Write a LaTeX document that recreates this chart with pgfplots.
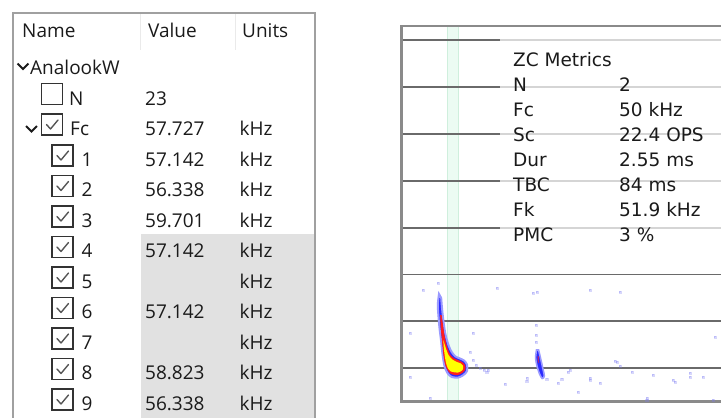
\documentclass[border=0pt]{standalone}
\usepackage{pgfplots}
\pgfplotsset{compat=1.18}
\usepackage{pgfplotstable}
\usepackage{fontspec}
\setmainfont{Open Sans}
\newfontfamily\metfont{DejaVu Sans}
\definecolor{txt}{HTML}{1A1A1A}
\definecolor{tborder}{HTML}{A0A0A0}
\definecolor{sepc}{HTML}{EAEAEA}
\definecolor{selgray}{HTML}{E1E1E1}
\definecolor{boxc}{HTML}{333333}
\definecolor{chk}{HTML}{555555}
\definecolor{framec}{HTML}{8A8A8A}
\definecolor{gridc}{HTML}{6A6A6A}
\definecolor{bandc}{HTML}{ECFBF3}
\definecolor{bandedge}{HTML}{CFEFDD}
\definecolor{halo}{HTML}{2A2AFF}
\definecolor{haloedge}{HTML}{9A9AFF}
\definecolor{hot}{HTML}{FF1E1E}
\definecolor{core}{HTML}{FFFF00}
\definecolor{noise}{HTML}{7B7BF2}
\newcommand{\tfont}{\fontsize{19}{22}\selectfont}
\newcommand{\mfont}{\metfont\fontsize{18.5}{20}\selectfont}
% checkbox: #1 left x, #2 bottom y (pixels, y downward)
\newcommand{\cbox}[2]{%
  \draw[boxc, line width=1.2pt, fill=white] (axis cs:#1,#2) rectangle (axis cs:#1+21,#2-21);}
\newcommand{\cmark}[2]{%
  \draw[chk, line width=1.4pt, line cap=round, line join=round]
    (axis cs:#1+5,#2-10.5) -- (axis cs:#1+9,#2-6) -- (axis cs:#1+16.5,#2-15);}
\newcommand{\chev}[2]{%
  \draw[txt, line width=1.8pt] (axis cs:#1,#2) -- (axis cs:#1+5.5,#2+5.5) -- (axis cs:#1+11,#2);}

\pgfplotstableread{
y val
105 23
135.5 57.727
166 57.142
196.5 56.338
227 59.701
257.5 57.142
318.5 57.142
379.5 58.823
410 56.338
}\valtbl
\pgfplotstableread{
y unit
135.5 kHz
166 kHz
196.5 kHz
227 kHz
257.5 kHz
288 kHz
318.5 kHz
349 kHz
379.5 kHz
410 kHz
}\unittbl
\pgfplotstableread{
y name
166 1
196.5 2
227 3
257.5 4
288 5
318.5 6
349 7
379.5 8
410 9
}\nametbl

\begin{document}
\begin{tikzpicture}
\begin{axis}[
  width=721pt, height=418pt, scale only axis,
  xmin=0, xmax=721, ymin=0, ymax=418, y dir=reverse,
  hide axis, clip=true,
  nodes near coords style={anchor=base west, inner sep=0pt, font=\tfont, text=txt},
]
% ---------------- left table panel ----------------
\fill[selgray] (axis cs:141,234) rectangle (axis cs:314,418);
\draw[tborder, line width=2pt] (axis cs:12.5,418) -- (axis cs:12.5,12.5) -- (axis cs:314.5,12.5) -- (axis cs:314.5,418);
\draw[sepc, line width=1pt] (axis cs:140,14) -- (axis cs:140,50);
\draw[sepc, line width=1pt] (axis cs:235,14) -- (axis cs:235,50);
\node[anchor=base west, inner sep=0pt, font=\tfont, text=txt] at (axis cs:22,37) {Name};
\node[anchor=base west, inner sep=0pt, font=\tfont, text=txt] at (axis cs:148,37) {Value};
\node[anchor=base west, inner sep=0pt, font=\tfont, text=txt] at (axis cs:242,37) {Units};
\chev{17.5}{63.5}
\node[anchor=base west, inner sep=0pt, font=\tfont, text=txt] at (axis cs:30,74) {AnalookW};
\cbox{41.5}{104.5}
\node[anchor=base west, inner sep=0pt, font=\tfont, text=txt] at (axis cs:69,105) {N};
\chev{26}{126}
\cbox{41.5}{135}\cmark{41.5}{135}
\node[anchor=base west, inner sep=0pt, font=\tfont, text=txt] at (axis cs:70,135.5) {Fc};
\cbox{52}{166}\cmark{52}{166}
\cbox{52}{196.5}\cmark{52}{196.5}
\cbox{52}{227}\cmark{52}{227}
\cbox{52}{257.5}\cmark{52}{257.5}
\cbox{52}{288}\cmark{52}{288}
\cbox{52}{318.5}\cmark{52}{318.5}
\cbox{52}{349}\cmark{52}{349}
\cbox{52}{379.5}\cmark{52}{379.5}
\cbox{52}{410}\cmark{52}{410}
\addplot[draw=none, mark=none, nodes near coords, point meta=explicit symbolic]
  table[x expr=81.5, y=y, meta=name] {\nametbl};
\addplot[draw=none, mark=none, nodes near coords, point meta=explicit symbolic]
  table[x expr=145, y=y, meta=val] {\valtbl};
\addplot[draw=none, mark=none, nodes near coords, point meta=explicit symbolic]
  table[x expr=239.5, y=y, meta=unit] {\unittbl};

% ---------------- right spectrogram panel ----------------
\fill[white] (axis cs:401,26) rectangle (axis cs:721,402);
\fill[bandc] (axis cs:447,26) rectangle (axis cs:459,401);
\draw[bandedge, line width=1pt] (axis cs:447.5,26) -- (axis cs:447.5,401);
\draw[bandedge, line width=1pt] (axis cs:458.5,26) -- (axis cs:458.5,401);
% grid lines (every 10 kHz)
\foreach \g in {40,87,134,181,228,274.5,321,368}{
  \edef\tmp{\noexpand\draw[gridc, line width=1.4pt] (axis cs:401,\g) -- (axis cs:721,\g);}\tmp
}
% faint background noise
\addplot[only marks, mark=square*, mark size=1.1pt, color=noise, opacity=0.3] coordinates {
 (410,333) (423,290) (438,283) (473,333) (473,360) (480,368) (488,370) (486.7,372)
 (497,288) (527,378) (526.7,381) (533,293) (537,292) (546.7,379) (561.7,379) (568,372)
 (570,370) (590,290) (590,378) (590,380) (578,392) (617,362) (620,366) (620,292)
 (647,398) (646.7,400) (653,375) (673,380) (675,382) (690,373) (690,377) (703,377)
 (713,400) (715,337) (430,398) (410,377) (536,325) (536,335) (536,342) (470,352) (476,365)
 (505,384) (558,383) (600,383) (632,372) (615,361) (484,370)
};
% spectrogram pulses
\addplot[fill=halo, draw=haloedge, line width=2pt, smooth, tension=0.5] coordinates {
 (439,294) (437.8,305) (438.6,318) (439.6,329) (441.2,342) (442.6,355) (444.6,366.5)
 (447.5,373) (451.7,377) (458.3,377.5) (463.5,375) (467,371) (467,364.5) (464,360.5)
 (460,358.5) (455.5,356.5) (452,352.5) (448.8,346) (445.5,334.5) (443.5,321.5) (442,308) (441.2,298)
} -- cycle;
\addplot[fill=hot, draw=none, smooth, tension=0.5] coordinates {
 (440.2,315) (440.8,328) (442,341) (443.4,355) (445.4,365.5) (448.8,372) (452.5,374.5)
 (458,375) (462.8,372.6) (465.3,369.5) (465.3,365.5) (462.8,362.5) (459,360.5) (454.5,358.5)
 (450.5,355) (447.2,347) (444.4,335) (442.6,322) (441.6,315)
} -- cycle;
\addplot[fill=core, draw=none, smooth, tension=0.5] coordinates {
 (443.3,340) (444,350) (445.8,362) (448,368.5) (451,371.5) (458,372.5) (462.5,370)
 (463.2,366) (461,363.5) (457,362) (452.5,359.5) (448.5,355) (445.8,348)
} -- cycle;
\addplot[fill=halo, draw=haloedge, line width=1.6pt, smooth, tension=0.5] coordinates {
 (536.5,350) (535.6,358) (537,366) (539.6,374) (542.2,378.5) (544.3,376) (542.5,367) (540.5,358) (538.6,350)
} -- cycle;
\addplot[fill=hot!60!halo, draw=none, smooth] coordinates {
 (537.5,356) (537.9,362) (539,362.5) (538.7,356)
} -- cycle;
% metrics overlay
\fill[white, opacity=0.72] (axis cs:500,31) rectangle (axis cs:721,256);
\draw[framec, line width=2.4pt] (axis cs:721,26) -- (axis cs:401.5,26) -- (axis cs:401.5,401.5) -- (axis cs:721,401.5);
\node[anchor=base west, inner sep=0pt, font=\mfont, text=txt] at (axis cs:513,66) {ZC Metrics};
\node[anchor=base west, inner sep=0pt, font=\mfont, text=txt] at (axis cs:513,91) {N};
\node[anchor=base west, inner sep=0pt, font=\mfont, text=txt] at (axis cs:513,116) {Fc};
\node[anchor=base west, inner sep=0pt, font=\mfont, text=txt] at (axis cs:513,141) {Sc};
\node[anchor=base west, inner sep=0pt, font=\mfont, text=txt] at (axis cs:513,166) {Dur};
\node[anchor=base west, inner sep=0pt, font=\mfont, text=txt] at (axis cs:513,191) {TBC};
\node[anchor=base west, inner sep=0pt, font=\mfont, text=txt] at (axis cs:513,216) {Fk};
\node[anchor=base west, inner sep=0pt, font=\mfont, text=txt] at (axis cs:513,241) {PMC};
\node[anchor=base west, inner sep=0pt, font=\mfont, text=txt] at (axis cs:619,91) {2};
\node[anchor=base west, inner sep=0pt, font=\mfont, text=txt] at (axis cs:619,116) {50 kHz};
\node[anchor=base west, inner sep=0pt, font=\mfont, text=txt] at (axis cs:619,141) {22.4 OPS};
\node[anchor=base west, inner sep=0pt, font=\mfont, text=txt] at (axis cs:619,166) {2.55 ms};
\node[anchor=base west, inner sep=0pt, font=\mfont, text=txt] at (axis cs:619,191) {84 ms};
\node[anchor=base west, inner sep=0pt, font=\mfont, text=txt] at (axis cs:619,216) {51.9 kHz};
\node[anchor=base west, inner sep=0pt, font=\mfont, text=txt] at (axis cs:619,241) {3 \%};
\end{axis}
\pgfresetboundingbox
\useasboundingbox (current axis.south west) rectangle (current axis.north east);
\end{tikzpicture}
\end{document}
